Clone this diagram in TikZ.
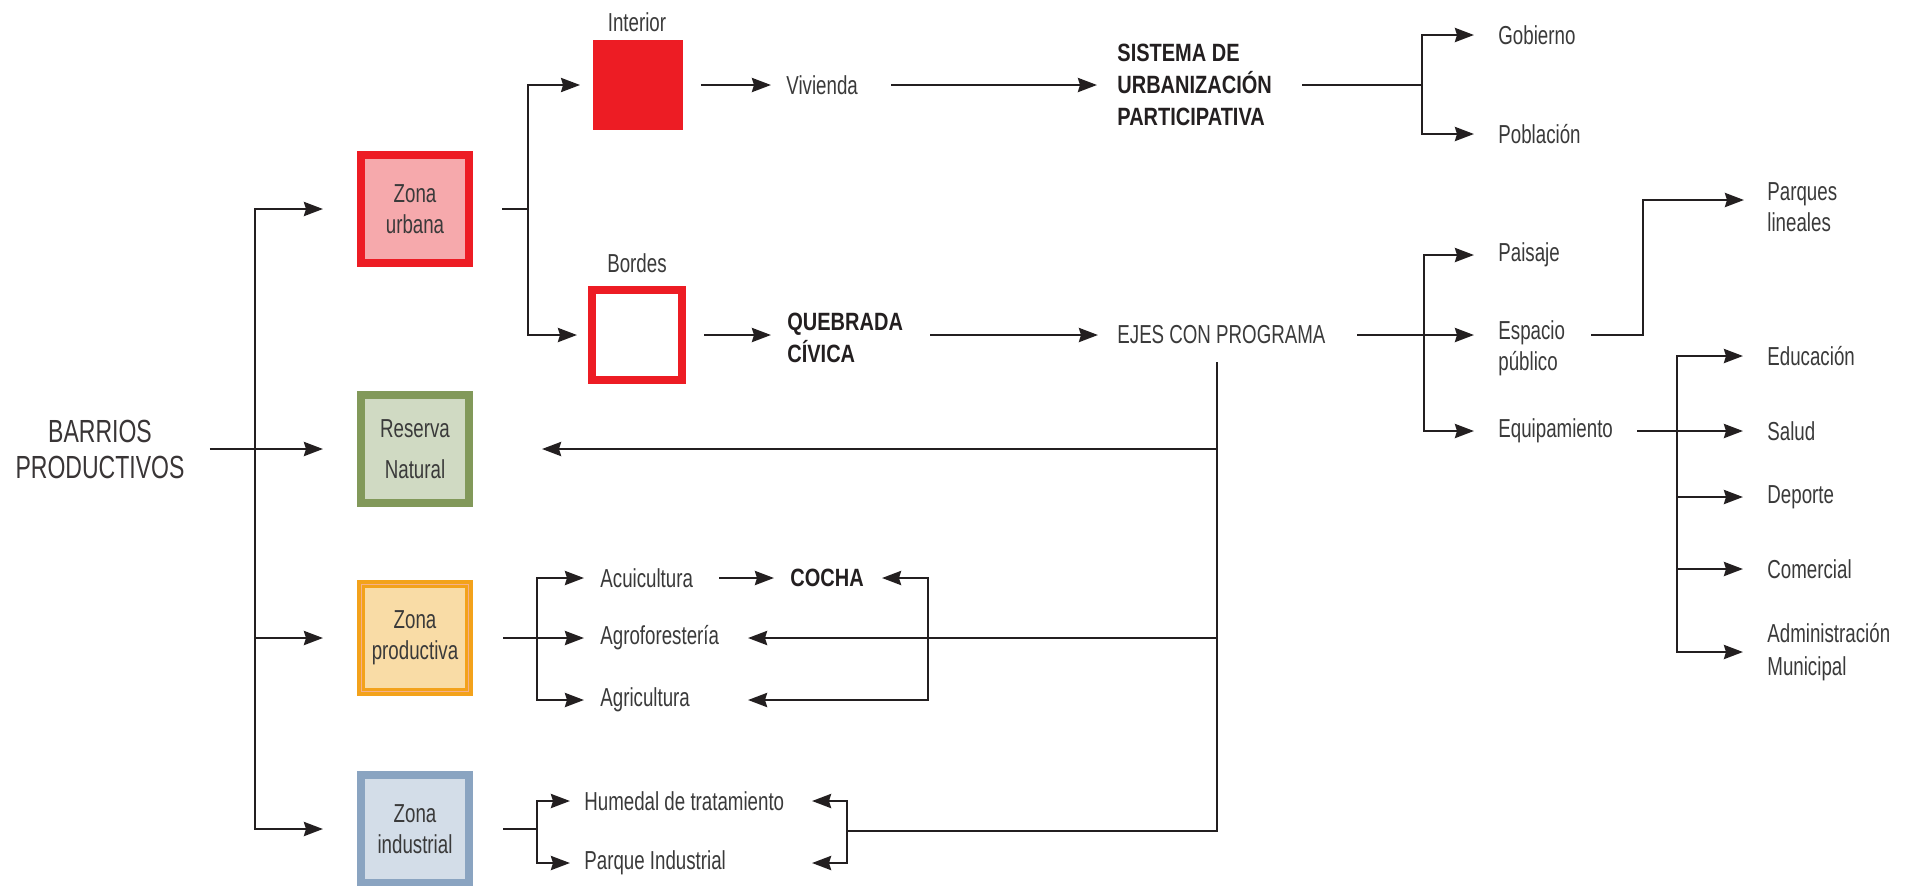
\documentclass[tikz,border=0pt]{standalone}
\usepackage{fontspec}
\setmainfont{Liberation Sans}[FakeStretch=0.72]
\newfontfamily\bcond{Liberation Sans}[FakeStretch=0.8]
\usetikzlibrary{arrows.meta,calc}
\definecolor{ln}{HTML}{231F20}
\definecolor{tx}{HTML}{3A3A3A}
\definecolor{redb}{HTML}{ED1C24}
\definecolor{redf}{HTML}{F6A9AC}
\definecolor{grnb}{HTML}{82995A}
\definecolor{grnf}{HTML}{D0DAC3}
\definecolor{orb}{HTML}{F3A21B}
\definecolor{orf}{HTML}{F9DCA6}
\definecolor{orl}{HTML}{F5B08C}
\definecolor{blb}{HTML}{8AA4C1}
\definecolor{blf}{HTML}{D3DDE8}
\begin{document}
\begin{tikzpicture}[x=0.5pt,y=-0.5pt,
  ln/.style={draw=ln, line width=1.4pt},
  arr/.style={ln, -{Stealth[length=9.5pt,width=7pt,inset=1pt]}},
  lbl/.style={inner sep=0pt, anchor=west, text=tx, font=\fontsize{13}{15.5}\selectfont, align=left},
  blbl/.style={inner sep=0pt, anchor=west, text=ln, font=\bcond\bfseries\fontsize{12.5}{16}\selectfont, align=left},
  zbox/.style={minimum width=54pt, minimum height=54pt, line width=4pt, inner sep=0pt, text=tx, font=\fontsize{13}{15.5}\selectfont, align=center},
]
\fill[white] (0,0) rectangle (1906,885);
\useasboundingbox (0,0) rectangle (1906,885);

% left title
\node[inner sep=0pt, text=ln!90, font=\fontsize{16}{18}\selectfont, align=center] (bp) at (100,449) {BARRIOS\\PRODUCTIVOS};

% zone boxes
\node[zbox, draw=redb, fill=redf] (zu) at (415,209) {Zona\\urbana};
\node[zbox, draw=grnb, fill=grnf] (rn) at (415,449) {Reserva\\[5pt]Natural};
\node[zbox, draw=orb, fill=orf] (zp) at (415,638) {Zona\\productiva};
\draw[orl, line width=0.6pt] ([shift={(2.3pt,-2.3pt)}]zp.north west) rectangle ([shift={(-2.3pt,2.3pt)}]zp.south east);
\node[zbox, draw=blb, fill=blf] (zi) at (415,829) {Zona\\industrial};

% interior / bordes
\node[fill=redb, minimum width=45pt, minimum height=45pt, inner sep=0pt] (int) at (637.5,85) {};
\node[draw=redb, fill=white, line width=4pt, minimum width=45pt, minimum height=45pt, inner sep=0pt] (bor) at (637,335) {};
\node[lbl, anchor=center] (intl) at (637,22) {Interior};
\node[lbl, anchor=center] (borl) at (637,263) {Bordes};

% texts
\node[lbl] (viv) at (786,85) {Vivienda};
\node[blbl] (sis) at (1117,85) {SISTEMA DE\\URBANIZACIÓN\\PARTICIPATIVA};
\node[blbl] (que) at (787,338) {QUEBRADA\\CÍVICA};
\node[lbl] (eje) at (1117,335) {EJES CON PROGRAMA};
\node[lbl] (gob) at (1498,35) {Gobierno};
\node[lbl] (pob) at (1498,134) {Población};
\node[lbl] (pai) at (1498,255) {Paisaje};
\node[lbl] (esp) at (1498,348) {Espacio\\público};
\node[lbl] (equ) at (1498,431) {Equipamiento};
\node[lbl] (par) at (1767,207) {Parques\\lineales};
\node[lbl] (edu) at (1767,356) {Educación};
\node[lbl] (sal) at (1767,431) {Salud};
\node[lbl] (dep) at (1767,497) {Deporte};
\node[lbl] (com) at (1767,569) {Comercial};
\node[lbl] (adm) at (1767,652) {Administración\\[1pt]Municipal};
\node[lbl] (acu) at (600,578) {Acuicultura};
\node[lbl] (agf) at (600,638) {Agroforestería};
\node[lbl] (agr) at (600,700) {Agricultura};
\node[blbl] (coc) at (790,578) {COCHA};
\node[lbl] (hum) at (584,801) {Humedal de tratamiento};
\node[lbl] (pin) at (584,863) {Parque Industrial};

% junctions
\coordinate (jl) at (255,449);
\coordinate (ju) at (528,209);
\coordinate (js) at (1422,85);
\coordinate (je) at (1424,335);
\coordinate (jp) at (1643,200);
\coordinate (jq) at (1677,431);
\coordinate (ev) at (1217,362);
\coordinate (eb) at (1217,831);
\coordinate (jz) at (537,638);
\coordinate (jc) at (928,638);
\coordinate (ji) at (537,829);
\coordinate (jh) at (847,831);

% left tree
\draw[arr] (jl) |- ([xshift=-17pt]zu.west);
\draw[arr] (jl) |- ([xshift=-17pt]zi.west);
\draw[arr] (jl |- zp.west) -- ([xshift=-17pt]zp.west);
\draw[arr] ([xshift=12.5pt]bp.east |- rn.west) -- ([xshift=-17pt]rn.west);

% zona urbana
\draw[ln] ([xshift=14.5pt]zu.east) -- (ju);
\draw[arr] (ju) |- ([xshift=-6pt]int.west);
\draw[arr] (ju) |- ([xshift=-5.5pt]bor.west);
\draw[arr] ([xshift=9pt]int.east) -- ([xshift=-7.5pt]viv.west);
\draw[arr] ([xshift=52.5pt]viv.west) -- ([xshift=-10pt]sis.west);
\draw[ln] ([xshift=92.5pt]sis.west) -- (js);
\draw[arr] (js) |- ([xshift=-12pt]gob.west);
\draw[arr] (js) |- ([xshift=-12pt]pob.west);
\draw[arr] ([xshift=9pt]bor.east) -- ([xshift=-8pt]que.west |- bor.east);
\draw[arr] ([xshift=71.5pt]que.west |- bor.east) -- ([xshift=-9.5pt]eje.west);
\draw[ln] ([xshift=120pt]eje.west) -- (je);
\draw[arr] (je) |- ([xshift=-12pt]pai.west);
\draw[arr] (je) -- ([xshift=-12pt]esp.west |- je);
\draw[arr] (je) |- ([xshift=-12pt]equ.west);
\draw[arr] ([xshift=46.5pt]esp.west |- je) -| (jp) -- ([xshift=-11.5pt]par.west |- jp);
\draw[ln] ([xshift=69.5pt]equ.west) -- (jq);
\draw[arr] (jq) |- ([xshift=-12pt]edu.west);
\draw[arr] (jq) -- ([xshift=-12pt]sal.west);
\draw[arr] (jq) |- ([xshift=-12pt]dep.west);
\draw[arr] (jq) |- ([xshift=-12pt]com.west);
\draw[arr] (jq) |- ([xshift=-12pt]adm.west);

% ejes vertical
\draw[ln] (ev) -- (eb) -- (jh);
\draw[arr] (ev |- rn.east) -- ([xshift=34.5pt]rn.east);
\draw[arr] (ev |- agf.west) -- ([xshift=74pt]agf.west);

% zona productiva
\draw[arr] ([xshift=15pt]zp.east) -- ([xshift=-8pt]agf.west);
\draw[arr] (jz) |- ([xshift=-8pt]acu.west);
\draw[arr] (jz) |- ([xshift=-8pt]agr.west);
\draw[arr] ([xshift=59.5pt]acu.west) -- ([xshift=-8pt]coc.west);
\draw[arr] (jc) |- ([xshift=46pt]coc.west);
\draw[arr] (jc) |- ([xshift=74pt]agr.west);

% zona industrial
\draw[ln] ([xshift=15pt]zi.east) -- (ji);
\draw[arr] (ji) |- ([xshift=-7pt]hum.west);
\draw[arr] (ji) |- ([xshift=-7pt]pin.west);
\draw[arr] (jh) |- ([xshift=114pt]hum.west);
\draw[arr] (jh) |- ([xshift=114pt]pin.west);
\end{tikzpicture}
\end{document}
